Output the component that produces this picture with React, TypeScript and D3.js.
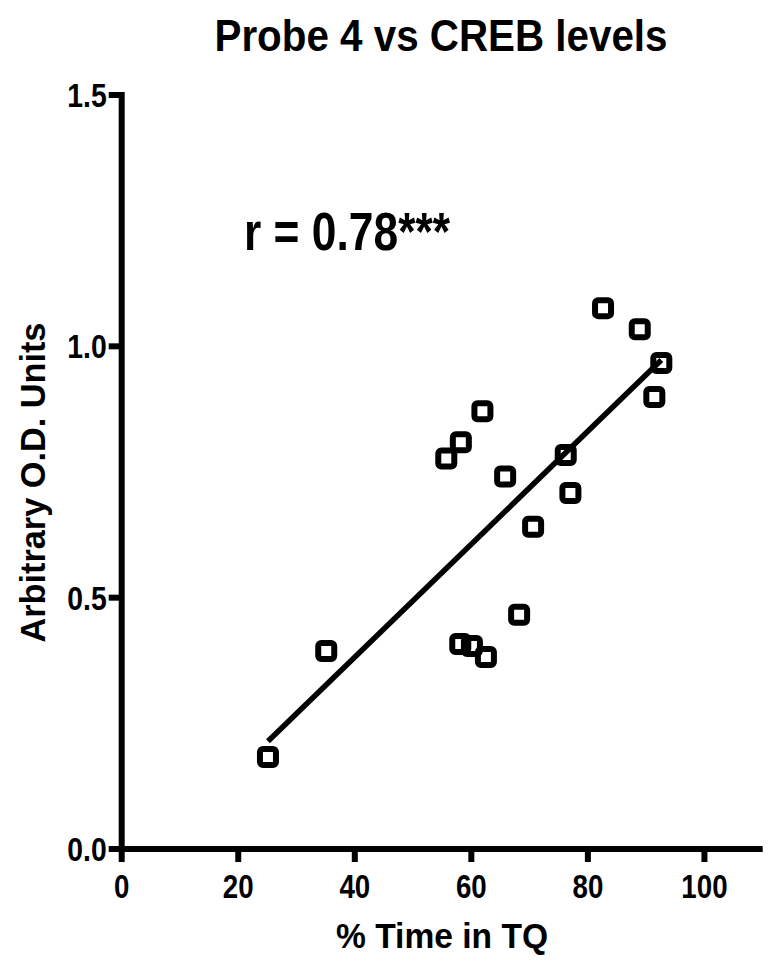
import React from "react";
import * as d3 from "d3";

const timeInTQ = [25.1, 35.1, 55.7, 58.2, 61.9, 65.8, 70.6, 76.2, 77.0, 68.2, 58.1, 60.1, 62.5, 82.6, 88.9, 92.6, 91.4];
const odUnits = [0.183, 0.394, 0.777, 0.809, 0.871, 0.741, 0.641, 0.784, 0.708, 0.466, 0.408, 0.404, 0.382, 1.076, 1.034, 0.967, 0.899];
const xTicks = [0, 20, 40, 60, 80, 100];
const yTicks = [0, 0.5, 1.0, 1.5];
const titleText = "Probe 4 vs CREB levels";
const xLabel = "% Time in TQ";
const yLabel = "Arbitrary O.D. Units";
const corrText = "r = 0.78***";

const W = 778;
const H = 966;
const FONT = "'Liberation Sans', Arial, Helvetica, sans-serif";

export default function App() {
  const x = d3.scaleLinear().domain([0, 110]).range([121.7, 762.7]);
  const y = d3.scaleLinear().domain([0, 1.5]).range([849, 95]);

  const pts = timeInTQ.map((v, i) => [v, odUnits[i]] as [number, number]);
  const mx = d3.mean(timeInTQ) as number;
  const my = d3.mean(odUnits) as number;
  let sxy = 0;
  let sxx = 0;
  pts.forEach(([a, b]) => {
    sxy += (a - mx) * (b - my);
    sxx += (a - mx) * (a - mx);
  });
  const slope = sxy / sxx;
  const icpt = my - slope * mx;
  const [xmin, xmax] = d3.extent(timeInTQ) as [number, number];
  const line = d3.line<number>().x((d) => x(d)).y((d) => y(icpt + slope * d));

  const sq = 16;
  const axisW = 6;
  const tickLen = 13;

  return (
    <svg
      width={W}
      height={H}
      style={{ position: "absolute", left: 0, top: 0, background: "#fff" }}
      fontFamily={FONT}
      fontWeight="bold"
    >
      <rect x={0} y={0} width={W} height={H} fill="#fff" />
      <text x={441} y={51} fontSize={44} textAnchor="middle" textLength={453} lengthAdjust="spacingAndGlyphs">
        {titleText}
      </text>

      {/* y axis */}
      <line x1={x(0)} x2={x(0)} y1={y(0) + axisW / 2} y2={y(1.5) - axisW / 2} stroke="#000" strokeWidth={axisW} />
      {yTicks.map((t) => (
        <g key={"y" + t}>
          <line x1={x(0) - tickLen} x2={x(0)} y1={y(t)} y2={y(t)} stroke="#000" strokeWidth={axisW} />
          <text
            transform={`translate(${x(0) - tickLen - 2},${y(t) + 12}) scale(0.86,1)`}
            fontSize={33}
            textAnchor="end"
          >
            {t.toFixed(1)}
          </text>
        </g>
      ))}

      {/* x axis */}
      <line x1={x(0) - axisW / 2} x2={x(110)} y1={y(0)} y2={y(0)} stroke="#000" strokeWidth={axisW} />
      {xTicks.map((t) => (
        <g key={"x" + t}>
          <line x1={x(t)} x2={x(t)} y1={y(0)} y2={y(0) + tickLen} stroke="#000" strokeWidth={axisW} />
          <text
            transform={`translate(${x(t)},${y(0) + 49}) scale(0.84,1)`}
            fontSize={33}
            textAnchor="middle"
          >
            {t}
          </text>
        </g>
      ))}

      <text x={442} y={948} fontSize={35} textAnchor="middle" textLength={212} lengthAdjust="spacingAndGlyphs">
        {xLabel}
      </text>
      <text
        transform={`translate(45,${(y(0.32) + y(1.13)) / 2 - 2}) rotate(-90)`}
        fontSize={35}
        textAnchor="middle"
        textLength={320}
        lengthAdjust="spacingAndGlyphs"
      >
        {yLabel}
      </text>

      <text x={244} y={250} fontSize={53} textLength={206} lengthAdjust="spacingAndGlyphs">
        {corrText}
      </text>

      <path d={line([xmin, xmax]) || ""} fill="none" stroke="#000" strokeWidth={5.5} />

      {pts.map(([a, b], i) => (
        <rect
          key={i}
          x={x(a) - sq / 2}
          y={y(b) - sq / 2}
          width={sq}
          height={sq}
          rx={3}
          fill="none"
          stroke="#000"
          strokeWidth={6}
        />
      ))}
    </svg>
  );
}
